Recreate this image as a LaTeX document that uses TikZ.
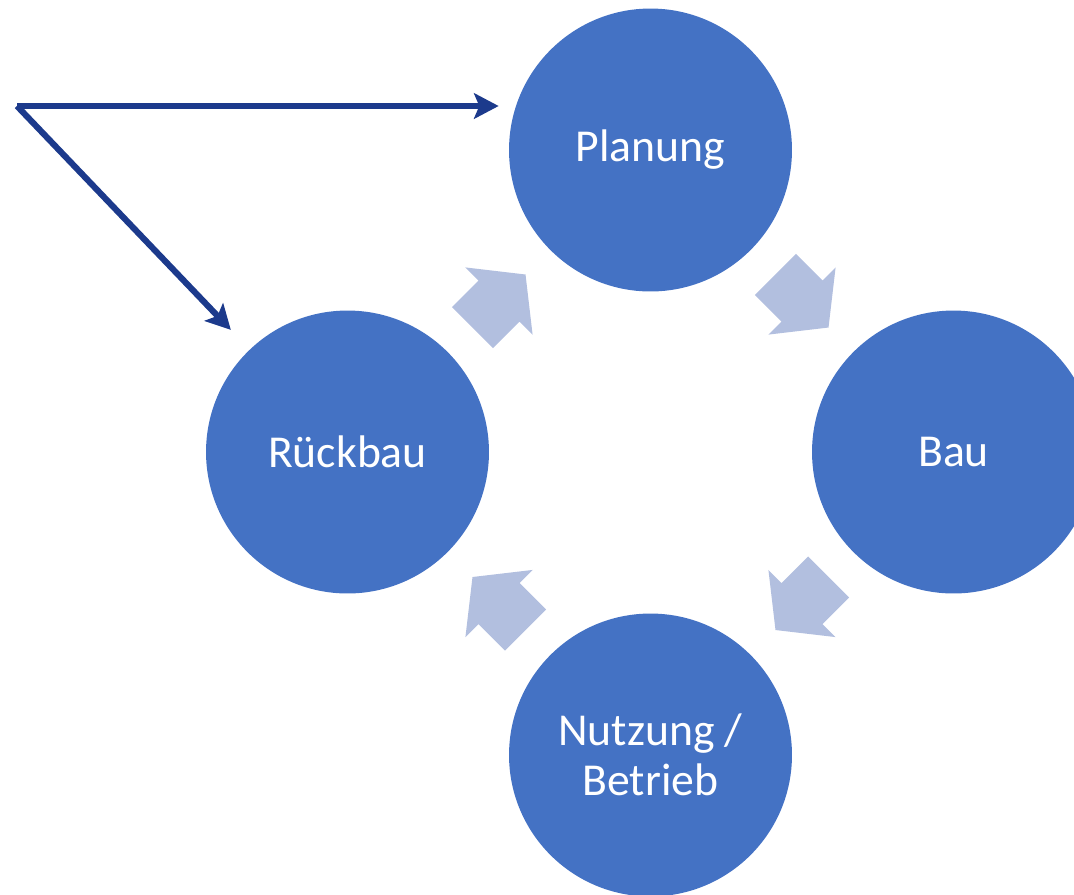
\documentclass[tikz,border=0pt]{standalone}
\usepackage{fontspec}
\setmainfont{Carlito}
\usetikzlibrary{arrows.meta,calc}
\definecolor{phasefill}{RGB}{68,114,196}
\definecolor{cyclefill}{RGB}{178,191,223}
\definecolor{backline}{RGB}{28,58,140}
\tikzset{phase/.style={circle,fill=phasefill,minimum size=5.66cm,inner sep=0pt,
    text=white,align=center,font=\fontsize{26}{28.5}\selectfont},
  back/.style={backline,line width=3.5pt,-{Stealth[length=14pt,width=14.5pt,inset=3pt]}},
  cycarrow/.pic = {\fill[cyclefill] (-37.5,-29) -- (0,-29) -- (0,-47.5) -- (37.5,0)
    -- (0,47.5) -- (0,29) -- (-37.5,29) -- cycle;}}
\begin{document}
\begin{tikzpicture}[x=0.02cm,y=-0.02cm]
    \clip (0,0) rectangle (1074,894);

    \node[phase] (planung) at (650.5,150) {Planung};
    \node[phase] (bau) at (953.5,452) {Bau};
    \node[phase] (nutzung) at (650.5,755) {Nutzung /\\Betrieb};
    \node[phase] (rueckbau) at (347.5,452) {Rückbau};

    % cycle arrows
    \pic[rotate=45] at ($(rueckbau)!0.5!(planung)$) {cycarrow};
    \pic[rotate=-45] at ($(planung)!0.5!(bau)$) {cycarrow};
    \pic[rotate=-135] at ($(bau)!0.5!(nutzung)$) {cycarrow};
    \pic[rotate=135] at ($(nutzung)!0.5!(rueckbau)$) {cycarrow};

    % back to start
    \coordinate (start) at (17,106);
    \draw[back,shorten >=5.7pt] (start) -- (planung.west |- start);
    \draw[back,shorten >=15.4pt] (start) -- (rueckbau);
\end{tikzpicture}
\end{document}
